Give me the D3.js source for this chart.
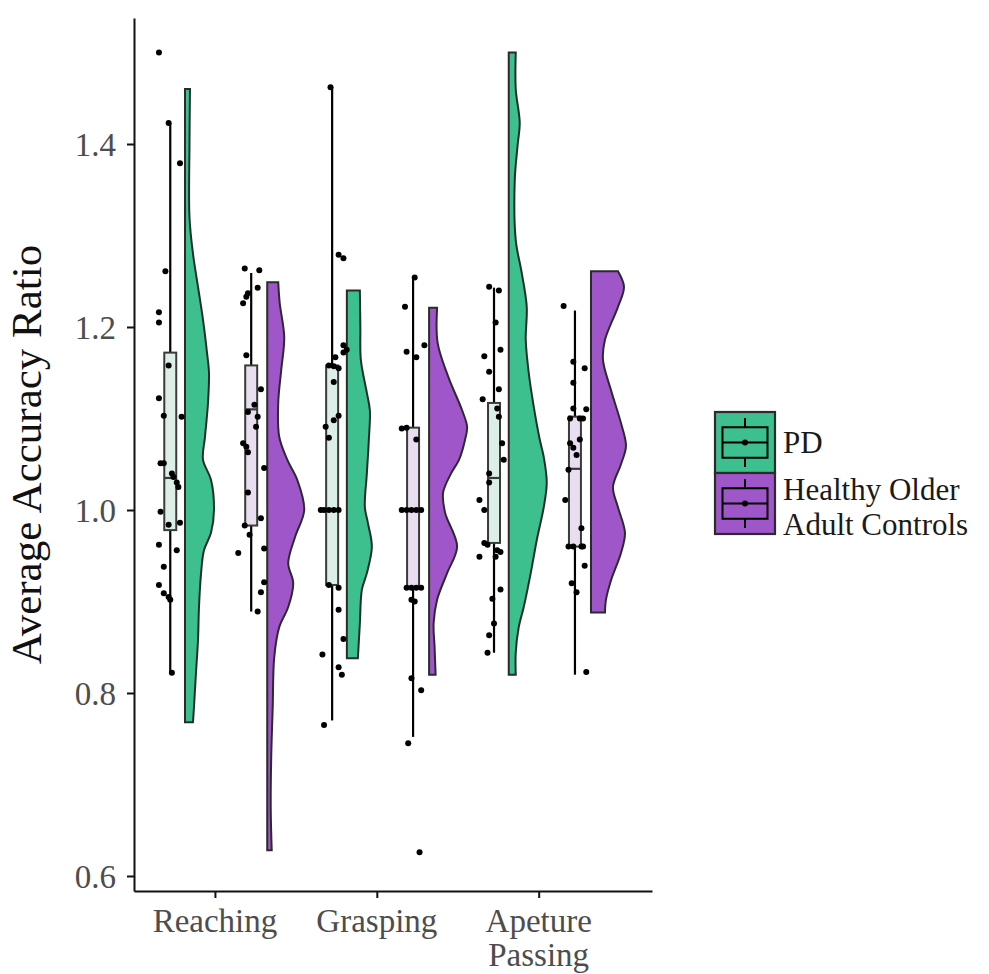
<!DOCTYPE html>
<html lang="en">
<head>
<meta charset="UTF-8">
<title>Average Accuracy Ratio</title>
<script src="https://cdn.jsdelivr.net/npm/d3@7"></script>
<style>
  body { margin: 0; background: #fff; }
  svg { display: block; font-family: "Liberation Serif", "Times New Roman", serif; }
</style>
</head>
<body>
<svg id="chart" width="989" height="974"></svg>
<script>
// categories and groups
var categories = ["Reaching", "Grasping", "Apeture Passing"];
var tickLines = [["Reaching"], ["Grasping"], ["Apeture", "Passing"]];
var groups = ["PD", "Healthy Older Adult Controls"];
var legendLines = [["PD"], ["Healthy Older", "Adult Controls"]];
var yTicks = [0.6, 0.8, 1.0, 1.2, 1.4];

// raw points, [value, jitter] (jitter in category units)
var pdReaching = [[1.50,-0.07],[1.423,-0.01],[1.379,0.06],[1.261,-0.03],[1.216,-0.07],[1.205,-0.07],[1.158,-0.01],
  [1.122,-0.07],[1.103,-0.04],[1.102,0.07],[1.051,-0.06],[1.051,-0.04],[1.04,0.01],[1.036,0.02],[1.03,0.04],
  [1.025,0.05],[0.998,-0.06],[0.986,0.06],[0.984,-0.01],[0.962,-0.07],[0.956,0.04],[0.938,-0.04],[0.918,-0.07],
  [0.909,-0.04],[0.905,-0.01],[0.902,0.00],[0.822,0.01]];
var hcReaching = [[1.264,-0.04],[1.262,0.05],[1.243,0.04],[1.237,-0.02],[1.233,-0.03],[1.226,-0.05],[1.169,-0.03],
  [1.132,0.06],[1.115,0.02],[1.107,-0.02],[1.102,0.04],[1.091,0.03],[1.073,-0.05],[1.069,-0.03],[1.063,-0.02],
  [1.046,0.08],[1.019,-0.02],[0.991,0.06],[0.983,-0.04],[0.973,-0.01],[0.958,0.08],[0.953,-0.08],[0.921,0.08],
  [0.910,0.06],[0.889,0.04]];
var pdGrasping = [[1.462,-0.01],[1.279,0.04],[1.275,0.07],[1.18,0.07],[1.175,0.09],[1.172,0.07],[1.167,0.02],
  [1.158,-0.02],[1.157,0.01],[1.155,0.04],[1.14,0.01],[1.103,0.04],[1.098,0.01],[1.091,-0.04],[1.079,-0.02],
  [1.0,-0.07],[1.0,-0.05],[1.0,-0.02],[1.0,0.01],[1.0,0.04],[0.918,-0.02],[0.915,0.04],[0.891,0.04],
  [0.859,0.07],[0.842,-0.06],[0.828,0.04],[0.82,0.06],[0.765,-0.05]];
var hcGrasping = [[1.254,0.01],[1.222,-0.05],[1.18,0.07],[1.173,-0.04],[1.167,0.02],[1.089,-0.07],[1.09,-0.04],
  [1.077,0.02],[1.0,-0.07],[1.0,-0.04],[1.0,-0.01],[1.0,0.02],[1.0,0.05],[0.915,-0.04],[0.915,-0.01],
  [0.915,0.02],[0.915,0.05],[0.902,-0.01],[0.90,0.01],[0.816,-0.01],[0.803,0.05],[0.745,-0.03],[0.626,0.04]];
var pdApeture = [[1.244,-0.03],[1.24,0.03],[1.205,0.01],[1.175,0.04],[1.168,-0.06],[1.151,-0.03],[1.132,0.03],
  [1.121,-0.07],[1.111,0.02],[1.102,0.03],[1.073,0.05],[1.055,0.06],[1.04,-0.03],[1.03,-0.03],[1.011,-0.09],
  [1.0,-0.06],[0.964,-0.06],[0.962,-0.04],[0.956,0.02],[0.954,0.04],[0.949,0.01],[0.949,-0.09],[0.913,0.04],
  [0.903,-0.01],[0.876,0.00],[0.863,-0.03],[0.844,-0.04]];
var hcApeture = [[1.223,-0.07],[1.162,-0.01],[1.155,0.06],[1.139,-0.01],[1.111,-0.01],[1.11,0.07],[1.10,-0.03],
  [1.10,0.03],[1.10,0.05],[1.073,-0.03],[1.077,0.03],[1.068,-0.01],[1.06,0.01],[1.044,-0.04],[1.011,-0.06],
  [0.98,0.04],[0.96,-0.04],[0.96,-0.01],[0.96,0.04],[0.96,0.05],[0.939,0.06],[0.92,-0.02],[0.91,0.01],[0.823,0.07]];

// box stats: [lower whisker, q1, median, q3, upper whisker]
var pdBoxes = [[0.822,0.978,1.035,1.172,1.423],[0.77,0.918,1.0,1.158,1.462],[0.844,0.964,1.035,1.117,1.243]];
var hcBoxes = [[0.889,0.983,1.11,1.158,1.259],[0.752,0.916,1.0,1.09,1.254],[0.82,0.96,1.045,1.102,1.218]];

// half-violin density profiles, [value, density]
var pdViolins = [
  [[1.46,0.5],[1.40,0.45],[1.32,0.45],[1.28,0.8],[1.244,1.3],[1.208,1.8],[1.172,2.2],[1.15,2.4],[1.117,2.3],
   [1.08,2.0],[1.055,1.8],[1.033,2.6],[1.00,2.9],[0.975,2.6],[0.956,1.9],[0.93,1.6],[0.894,1.4],[0.858,1.3],
   [0.822,1.1],[0.785,0.9],[0.768,0.8]],
  [[1.24,1.3],[1.20,1.35],[1.164,1.4],[1.128,2.0],[1.109,2.3],[1.077,2.2],[1.04,2.0],[1.003,1.8],[0.986,2.1],
   [0.96,2.5],[0.931,2.0],[0.913,1.5],[0.876,1.3],[0.838,1.1]],
  [[1.50,0.7],[1.46,0.7],[1.423,1.1],[1.40,0.9],[1.36,0.6],[1.295,0.7],[1.259,1.3],[1.222,1.8],[1.186,1.7],
   [1.15,2.0],[1.113,2.5],[1.077,3.1],[1.058,3.5],[1.03,3.8],[1.003,3.5],[0.967,2.8],[0.931,2.2],[0.894,1.5],
   [0.872,1.0],[0.844,0.7],[0.82,0.7]]
];
var hcViolins = [
  [[1.249,1.1],[1.226,1.25],[1.189,1.7],[1.153,1.4],[1.117,1.1],[1.08,1.2],[1.055,2.0],[1.033,3.0],[1.00,3.7],
   [0.971,2.8],[0.942,2.1],[0.92,2.6],[0.894,2.1],[0.872,1.2],[0.839,0.7],[0.785,0.55],[0.73,0.4],[0.675,0.35],
   [0.628,0.45]],
  [[1.221,0.8],[1.183,0.85],[1.146,1.9],[1.109,3.3],[1.091,3.8],[1.077,3.6],[1.055,3.0],[1.04,2.2],[1.019,1.4],
   [0.997,1.6],[0.96,2.8],[0.931,1.8],[0.902,0.8],[0.876,0.45],[0.85,0.55],[0.82,0.65]],
  [[1.261,2.7],[1.244,3.3],[1.222,2.7],[1.186,1.4],[1.164,1.2],[1.131,2.0],[1.095,3.0],[1.07,3.5],[1.05,3.0],
   [1.025,2.2],[1.003,2.7],[0.975,3.4],[0.953,3.0],[0.923,2.0],[0.902,1.5],[0.888,1.4]]
];

var pdPoints = [pdReaching, pdGrasping, pdApeture];
var hcPoints = [hcReaching, hcGrasping, hcApeture];

// scales
var svg = d3.select("#chart");
var x = d3.scaleLinear().domain([-0.5, 2.7]).range([134, 652]);
var y = d3.scaleLinear().domain([0.5836, 1.5377]).range([891, 18]);
var dens = d3.scaleLinear().domain([0, 1]).range([0, 10]);
var fill = d3.scaleOrdinal().domain(groups).range(["#3dbf8e", "#9f56c8"]);
var paleFill = d3.scaleOrdinal().domain(groups).range(["#dcefe6", "#e9deef"]);
var boxOffset = d3.scaleOrdinal().domain(groups).range([-0.276, 0.224]);
var violinOffset = d3.scaleOrdinal().domain(groups).range([-0.185, 0.323]);
var boxHalf = 0.037;

var series = [];
categories.forEach(function(c, i) {
  series.push({group: groups[0], cat: i, pts: pdPoints[i], box: pdBoxes[i], vio: pdViolins[i]});
  series.push({group: groups[1], cat: i, pts: hcPoints[i], box: hcBoxes[i], vio: hcViolins[i]});
});

// half violins
var area = d3.area()
  .y(function(d) { return y(d[0]); })
  .x0(0)
  .x1(function(d) { return dens(d[1]); })
  .curve(d3.curveCatmullRom);

svg.append("g").selectAll("path")
  .data(series).enter().append("path")
  .attr("transform", function(s) { return "translate(" + x(s.cat + violinOffset(s.group)) + ",0)"; })
  .attr("d", function(s) { return area(s.vio); })
  .attr("fill", function(s) { return fill(s.group); })
  .attr("stroke", "#2b2b2b")
  .attr("stroke-width", 2);

// boxplots
var boxes = svg.append("g").selectAll("g").data(series).enter().append("g");
boxes.append("line")
  .attr("x1", function(s) { return x(s.cat + boxOffset(s.group)); })
  .attr("x2", function(s) { return x(s.cat + boxOffset(s.group)); })
  .attr("y1", function(s) { return y(s.box[4]); })
  .attr("y2", function(s) { return y(s.box[3]); })
  .attr("stroke", "#000").attr("stroke-width", 2.2);
boxes.append("line")
  .attr("x1", function(s) { return x(s.cat + boxOffset(s.group)); })
  .attr("x2", function(s) { return x(s.cat + boxOffset(s.group)); })
  .attr("y1", function(s) { return y(s.box[1]); })
  .attr("y2", function(s) { return y(s.box[0]); })
  .attr("stroke", "#000").attr("stroke-width", 2.2);
boxes.append("rect")
  .attr("x", function(s) { return x(s.cat + boxOffset(s.group) - boxHalf); })
  .attr("width", function(s) { return 2 * (x(boxHalf) - x(0)); })
  .attr("y", function(s) { return y(s.box[3]); })
  .attr("height", function(s) { return y(s.box[1]) - y(s.box[3]); })
  .attr("fill", function(s) { return paleFill(s.group); })
  .attr("stroke", "#3a3a3a").attr("stroke-width", 2);
boxes.append("line")
  .attr("x1", function(s) { return x(s.cat + boxOffset(s.group) - boxHalf); })
  .attr("x2", function(s) { return x(s.cat + boxOffset(s.group) + boxHalf); })
  .attr("y1", function(s) { return y(s.box[2]); })
  .attr("y2", function(s) { return y(s.box[2]); })
  .attr("stroke", "#3a3a3a").attr("stroke-width", 2.2);

// points
svg.append("g").selectAll("g").data(series).enter().append("g")
  .selectAll("circle")
  .data(function(s) { return s.pts.map(function(p) { return {s: s, v: p[0], j: p[1]}; }); })
  .enter().append("circle")
  .attr("cx", function(d) { return x(d.s.cat + boxOffset(d.s.group) + d.j); })
  .attr("cy", function(d) { return y(d.v); })
  .attr("r", 3)
  .attr("fill", "#000");

// axes
var yAxis = d3.axisLeft(y).tickValues(yTicks).tickFormat(d3.format(".1f"))
  .tickSize(7).tickSizeOuter(0).tickPadding(11);
var gy = svg.append("g").attr("transform", "translate(" + x(-0.5) + ",0)").call(yAxis)
  .attr("font-family", null);
gy.selectAll("text").attr("font-size", 33).attr("fill", "#4d4d4d").attr("dy", "0.36em");

var xAxis = d3.axisBottom(x).tickValues([0, 1, 2]).tickFormat("").tickSize(7).tickSizeOuter(0);
var gx = svg.append("g").attr("transform", "translate(0," + y.range()[0] + ")").call(xAxis)
  .attr("font-family", null);

svg.selectAll(".domain, .tick line").attr("stroke", "#111").attr("stroke-width", 2);

var xl = svg.append("g").selectAll("text").data(tickLines).enter().append("text")
  .attr("text-anchor", "middle").attr("font-size", 33).attr("fill", "#4d4d4d")
  .attr("transform", function(d, i) { return "translate(" + x(i) + ",932)"; });
xl.selectAll("tspan").data(function(d) { return d; }).enter().append("tspan")
  .attr("x", 0).attr("y", function(d, k) { return k * 34; })
  .text(function(d) { return d; });

svg.append("text")
  .attr("transform", "translate(41," + (y.range()[0] + y.range()[1]) / 2 + ") rotate(-90)")
  .attr("text-anchor", "middle").attr("font-size", 43).attr("fill", "#111")
  .text("Average Accuracy Ratio");

// legend
var keyW = 60, keyH = 61, keyX = 715, keyY = 412;
var leg = svg.append("g").selectAll("g").data(groups).enter().append("g")
  .attr("transform", function(d, i) { return "translate(" + keyX + "," + (keyY + i * keyH) + ")"; });
leg.append("rect").attr("width", keyW).attr("height", keyH)
  .attr("fill", function(d) { return fill(d); }).attr("stroke", "#2b2b2b").attr("stroke-width", 2.2);
leg.append("line").attr("x1", keyW / 2).attr("x2", keyW / 2).attr("y1", keyH * 0.1).attr("y2", keyH * 0.9)
  .attr("stroke", "#000").attr("stroke-width", 2);
leg.append("rect").attr("x", keyW * 0.125).attr("width", keyW * 0.75)
  .attr("y", keyH * 0.25).attr("height", keyH * 0.5)
  .attr("fill", function(d) { return fill(d); }).attr("stroke", "#000").attr("stroke-width", 2);
leg.append("line").attr("x1", keyW * 0.125).attr("x2", keyW * 0.875).attr("y1", keyH / 2).attr("y2", keyH / 2)
  .attr("stroke", "#000").attr("stroke-width", 2);
leg.append("circle").attr("cx", keyW / 2).attr("cy", keyH / 2).attr("r", 3).attr("fill", "#000");

var lt = leg.append("text").attr("font-size", 31).attr("fill", "#1a1a1a");
lt.selectAll("tspan").data(function(d, i) { return legendLines[i]; }).enter().append("tspan")
  .attr("x", keyW + 8)
  .attr("y", function(d, k, nodes) {
    var n = nodes.length;
    return keyH / 2 + 10.5 + (k - (n - 1) / 2) * 35 + (n - 1) * 3;
  })
  .text(function(d) { return d; });
</script>
</body>
</html>
